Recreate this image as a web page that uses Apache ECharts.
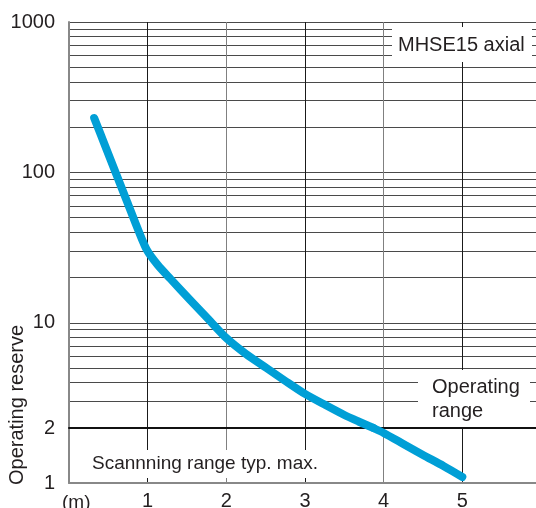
<!DOCTYPE html>
<html>
<head>
<meta charset="utf-8">
<script src="https://cdn.jsdelivr.net/npm/echarts@6/dist/echarts.min.js"></script>
<style>
  html, body { margin: 0; padding: 0; background: #fff; }
  #chart { width: 536px; height: 508px; }
</style>
</head>
<body>
<div id="chart"></div>
<script>
  // scanning distance (m) and operating reserve
  const distance = [0.32, 0.46, 0.6, 0.74, 0.88, 0.99, 1.13, 1.29, 1.54, 1.77, 2.0, 2.25, 2.51, 2.75, 3.0, 3.26, 3.5, 3.68, 3.87, 4.0, 4.25, 4.5, 4.76, 5.0]
  const reserve = [230, 150, 97.6, 63.6, 41.4, 30.5, 24.2, 19.6, 14.2, 10.6, 7.93, 6.21, 5.01, 4.11, 3.37, 2.84, 2.44, 2.21, 2.0, 1.91, 1.71, 1.51, 1.31, 1.11]
  const xTicks = [0, 1, 2, 3, 4, 5, 6]
  const yGridValues = [2, 3, 4, 5, 6, 7, 8, 9, 10, 20, 30, 40, 50, 60, 70, 80, 90, 100, 200, 300, 400, 500, 600, 700, 800, 900, 1000]
  const yLabelValues = [2, 10, 100, 1000]

  const FONT = 'Liberation Sans'
  const TEXT_COLOR = '#231f20'

  // above the "2" line the axis is logarithmic, below it is the scanning range strip
  const upper = []
  const lower = []
  distance.forEach((d, i) => {
    if (reserve[i] >= 2) upper.push([d, reserve[i]])
    if (reserve[i] <= 2) lower.push([d, reserve[i]])
  })

  const chart = echarts.init(document.getElementById('chart'))

  const curveStyle = {
    color: '#009fd6',
    width: 8,
    cap: 'round',
    join: 'round'
  }

  const option = {
    animation: false,
    grid: [
      {left: 69, right: -5, top: 22, bottom: 80, outerBoundsMode: 'none'},
      {left: 69, right: -5, top: 428, bottom: 25, outerBoundsMode: 'none'}
    ],
    xAxis: [
      {
        gridIndex: 0,
        type: 'value',
        min: xTicks[0],
        max: xTicks[xTicks.length - 1],
        interval: 1,
        axisLine: {show: true, onZero: false, lineStyle: {color: '#111', width: 2}},
        axisTick: {show: false},
        axisLabel: {show: false},
        splitLine: {show: true, lineStyle: {color: ['#808080', '#1a1a1a'], width: 1}}
      },
      {
        gridIndex: 1,
        type: 'value',
        min: xTicks[0],
        max: xTicks[xTicks.length - 1],
        interval: 1,
        axisLine: {show: true, onZero: false, lineStyle: {color: '#888', width: 2}},
        axisTick: {show: false},
        axisLabel: {
          color: TEXT_COLOR,
          fontFamily: FONT,
          fontSize: 20,
          margin: 8,
          formatter: v => (v === 0 ? '' : String(v))
        },
        splitLine: {show: true, lineStyle: {color: ['#808080', '#1a1a1a'], width: 1}}
      }
    ],
    yAxis: [
      {
        gridIndex: 0,
        type: 'log',
        logBase: 10,
        min: 2,
        max: 1000,
        axisLine: {show: true, lineStyle: {color: '#888', width: 2}},
        axisTick: {show: false, customValues: yGridValues},
        axisLabel: {
          customValues: yLabelValues,
          color: TEXT_COLOR,
          fontFamily: FONT,
          fontSize: 20,
          margin: 14,
          formatter: v => String(Math.round(v))
        },
        splitLine: {show: true, lineStyle: {color: '#4a4a4a', width: 1}}
      },
      {
        gridIndex: 1,
        type: 'value',
        min: 1,
        max: 2,
        interval: 1,
        axisLine: {show: true, lineStyle: {color: '#888', width: 2}},
        axisTick: {show: false},
        axisLabel: {
          color: TEXT_COLOR,
          fontFamily: FONT,
          fontSize: 20,
          margin: 14,
          formatter: v => (v === 1 ? '1' : '')
        },
        splitLine: {show: false}
      }
    ],
    series: [
      {
        type: 'line',
        xAxisIndex: 0,
        yAxisIndex: 0,
        data: upper,
        smooth: 0.25,
        symbol: 'none',
        clip: false,
        z: 20,
        lineStyle: curveStyle
      },
      {
        type: 'line',
        xAxisIndex: 1,
        yAxisIndex: 1,
        data: lower,
        smooth: 0.25,
        symbol: 'none',
        clip: false,
        z: 20,
        lineStyle: curveStyle
      }
    ],
    graphic: [
      {type: 'rect', z: 10, shape: {x: 392, y: 27, width: 140, height: 35}, style: {fill: '#fff'}},
      {
        type: 'text', z: 11, x: 398, y: 45,
        style: {text: 'MHSE15 axial', fontFamily: FONT, fontSize: 20, fill: TEXT_COLOR, textVerticalAlign: 'middle'}
      },
      {type: 'rect', z: 10, shape: {x: 418, y: 370, width: 112, height: 57}, style: {fill: '#fff'}},
      {
        type: 'text', z: 11, x: 432, y: 375,
        style: {text: 'Operating\nrange', fontFamily: FONT, fontSize: 20, lineHeight: 24, fill: TEXT_COLOR, textVerticalAlign: 'top'}
      },
      {type: 'rect', z: 10, shape: {x: 88, y: 450, width: 246, height: 28}, style: {fill: '#fff'}},
      {
        type: 'text', z: 11, x: 92, y: 464,
        style: {text: 'Scannning range typ. max.', fontFamily: FONT, fontSize: 19, fill: TEXT_COLOR, textVerticalAlign: 'middle'}
      },
      {
        type: 'text', z: 11, x: 62, y: 503,
        style: {text: '(m)', fontFamily: FONT, fontSize: 19, fill: TEXT_COLOR, textVerticalAlign: 'middle'}
      },
      {
        type: 'text', z: 11, x: 17, y: 485, rotation: Math.PI / 2,
        style: {text: 'Operating reserve', fontFamily: FONT, fontSize: 20, fill: TEXT_COLOR, textAlign: 'left', textVerticalAlign: 'middle'}
      }
    ]
  }

  chart.setOption(option)
</script>
</body>
</html>
